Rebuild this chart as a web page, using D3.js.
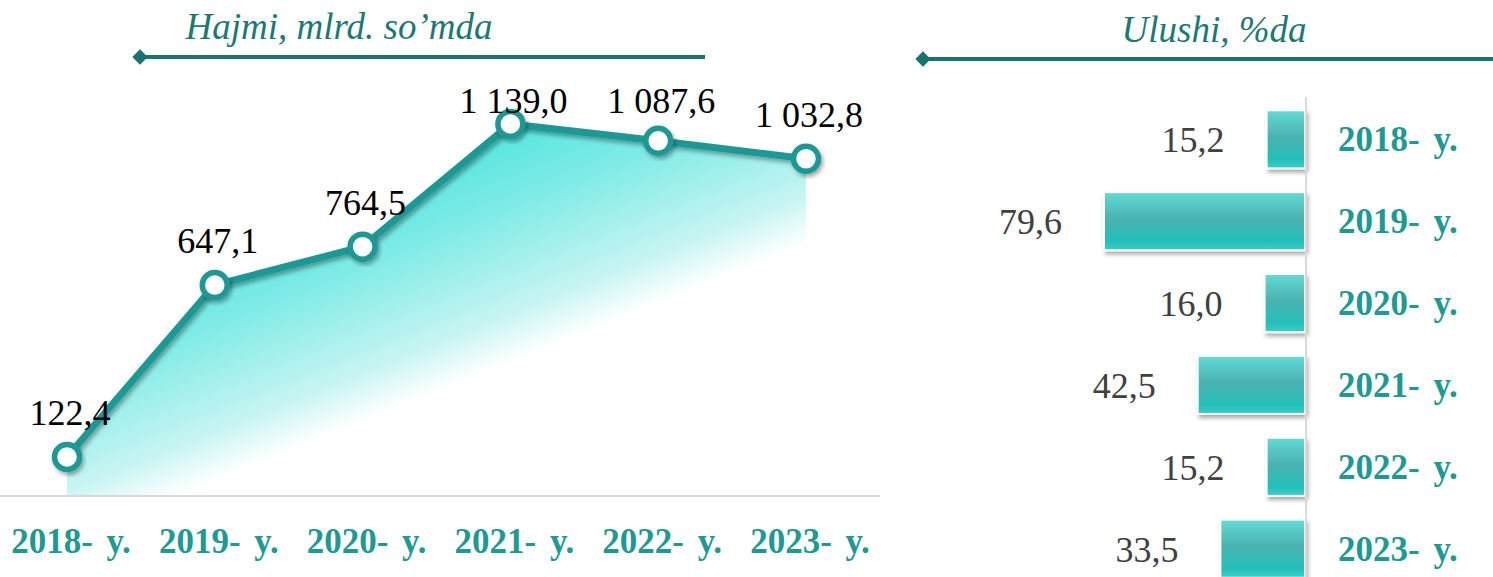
<!DOCTYPE html>
<html>
<head>
<meta charset="utf-8">
<script src="https://cdnjs.cloudflare.com/ajax/libs/d3/7.8.5/d3.min.js"></script>
<style>
  body { margin: 0; background: #fff; }
  svg { display: block; }
  text { font-family: "Liberation Serif"; }
</style>
</head>
<body>
<script>
var years = ["2018- y.", "2019- y.", "2020- y.", "2021- y.", "2022- y.", "2023- y."];
var volume = [122.4, 647.1, 764.5, 1139.0, 1087.6, 1032.8];
var volumeLabels = ["122,4", "647,1", "764,5", "1 139,0", "1 087,6", "1 032,8"];
var share = [15.2, 79.6, 16.0, 42.5, 15.2, 33.5];
var shareLabels = ["15,2", "79,6", "16,0", "42,5", "15,2", "33,5"];
var leftTitle = "Hajmi, mlrd. so\u2019mda";
var rightTitle = "Ulushi, %da";

var width = 1493, height = 577;
var teal = "#1e9994", titleTeal = "#1b7873", lineTeal = "#177571";

var svg = d3.select("body").append("svg").attr("width", width).attr("height", height);
var defs = svg.append("defs");

var shadow = defs.append("filter").attr("id", "shadow")
  .attr("x", "-30%").attr("y", "-30%").attr("width", "160%").attr("height", "160%");
shadow.append("feDropShadow").attr("dx", 2).attr("dy", 3).attr("stdDeviation", 2)
  .attr("flood-color", "#000").attr("flood-opacity", 0.35);

// ---- left: line + area ----
var x = d3.scalePoint().domain(years).range([67, 806]);
var y = d3.scaleLinear().domain([0, 1200]).range([497, 104]);

// diagonal fade, from the peak towards bottom-right
var gx = x(years[3]), gy = y(volume[3]);
var areaGrad = defs.append("linearGradient").attr("id", "areaGrad")
  .attr("gradientUnits", "userSpaceOnUse")
  .attr("x1", gx).attr("y1", gy)
  .attr("x2", gx + 82).attr("y2", gy + 205);
areaGrad.append("stop").attr("offset", 0).attr("stop-color", "#55e5df");
areaGrad.append("stop").attr("offset", 0.35).attr("stop-color", "#80ebe6");
areaGrad.append("stop").attr("offset", 0.8).attr("stop-color", "#c8f5f3");
areaGrad.append("stop").attr("offset", 1).attr("stop-color", "#ffffff");

var area = d3.area()
  .x(function (d, i) { return x(years[i]); })
  .y0(y(0))
  .y1(function (d) { return y(d); });

svg.append("path").datum(volume).attr("d", area).attr("fill", "url(#areaGrad)");

svg.append("line").attr("x1", 0).attr("x2", 880).attr("y1", y(0) - 1).attr("y2", y(0) - 1)
  .attr("stroke", "#d9d9d9").attr("stroke-width", 2);

var line = d3.line()
  .x(function (d, i) { return x(years[i]); })
  .y(function (d) { return y(d); });

svg.append("path").datum(volume).attr("d", line)
  .attr("fill", "none").attr("stroke", teal).attr("stroke-width", 7)
  .attr("stroke-linejoin", "round").attr("filter", "url(#shadow)");

svg.selectAll("circle.pt").data(volume).enter().append("circle")
  .attr("class", "pt")
  .attr("cx", function (d, i) { return x(years[i]); })
  .attr("cy", function (d) { return y(d); })
  .attr("r", 12.5)
  .attr("fill", "#fff").attr("stroke", teal).attr("stroke-width", 5.5)
  .attr("filter", "url(#shadow)");

svg.selectAll("text.val").data(volume).enter().append("text")
  .attr("class", "val")
  .attr("x", function (d, i) { return x(years[i]) + 3; })
  .attr("y", function (d) { return Math.max(y(d) - 32, 113); })
  .attr("text-anchor", "middle")
  .style("font-size", "36px").attr("fill", "#000")
  .text(function (d, i) { return volumeLabels[i]; });

svg.selectAll("text.cat").data(years).enter().append("text")
  .attr("class", "cat")
  .attr("x", function (d) { return x(d) + 4; })
  .attr("y", 553)
  .attr("text-anchor", "middle")
  .style("font-weight", "bold").style("font-size", "35px").style("word-spacing", "5px")
  .attr("fill", teal)
  .text(function (d) { return d; });

// ---- titles with diamond rules ----
function titleRule(x0, x1, yy, label, cx, ty) {
  svg.append("text").attr("x", cx).attr("y", ty).attr("text-anchor", "middle")
    .style("font-style", "italic").style("font-size", "37px")
    .attr("fill", titleTeal)
    .text(label);
  svg.append("line").attr("x1", x0).attr("x2", x1).attr("y1", yy).attr("y2", yy)
    .attr("stroke", lineTeal).attr("stroke-width", 4);
  svg.append("path").attr("d", d3.symbol().type(d3.symbolDiamond2).size(150)())
    .attr("transform", "translate(" + (x0 + 3) + "," + yy + ")")
    .attr("fill", lineTeal);
}
titleRule(137, 705, 57, leftTitle, 339, 39);
titleRule(920, 1493, 59, rightTitle, 1214, 42);

// ---- right: horizontal bars ----
var axisX = 1305;
var yb = d3.scaleBand().domain(years).range([98, 590]).paddingInner(0.29).paddingOuter(0.15);
var xb = d3.scaleLinear().domain([0, 80]).range([0, 202]);

var barGrad = defs.append("linearGradient").attr("id", "barGrad")
  .attr("x1", 0).attr("y1", 0).attr("x2", 0).attr("y2", 1);
barGrad.append("stop").attr("offset", 0).attr("stop-color", "#62dbd6");
barGrad.append("stop").attr("offset", 0.45).attr("stop-color", "#4bb3af");
barGrad.append("stop").attr("offset", 0.85).attr("stop-color", "#22c0bb");
barGrad.append("stop").attr("offset", 1).attr("stop-color", "#3fcdc8");

svg.selectAll("rect.bar").data(share).enter().append("rect")
  .attr("class", "bar")
  .attr("x", function (d) { return axisX - xb(d); })
  .attr("y", function (d, i) { return yb(years[i]); })
  .attr("width", function (d) { return xb(d); })
  .attr("height", yb.bandwidth())
  .attr("fill", "url(#barGrad)")
  .attr("stroke", "#fff").attr("stroke-width", 2)
  .attr("filter", "url(#shadow)");

svg.append("line").attr("x1", axisX + 1).attr("x2", axisX + 1).attr("y1", 97).attr("y2", height)
  .attr("stroke", "#d9d9d9").attr("stroke-width", 2);

svg.selectAll("text.sval").data(share).enter().append("text")
  .attr("class", "sval")
  .attr("x", function (d) { return axisX - xb(d) - 42; })
  .attr("y", function (d, i) { return yb(years[i]) + yb.bandwidth() / 2 + 13; })
  .attr("text-anchor", "end")
  .style("font-size", "36px").attr("fill", "#404040")
  .text(function (d, i) { return shareLabels[i]; });

svg.selectAll("text.scat").data(years).enter().append("text")
  .attr("class", "scat")
  .attr("x", 1338)
  .attr("y", function (d) { return yb(d) + yb.bandwidth() / 2 + 12; })
  .style("font-weight", "bold").style("font-size", "35px").style("word-spacing", "5px")
  .attr("fill", teal)
  .text(function (d) { return d; });
</script>
</body>
</html>
